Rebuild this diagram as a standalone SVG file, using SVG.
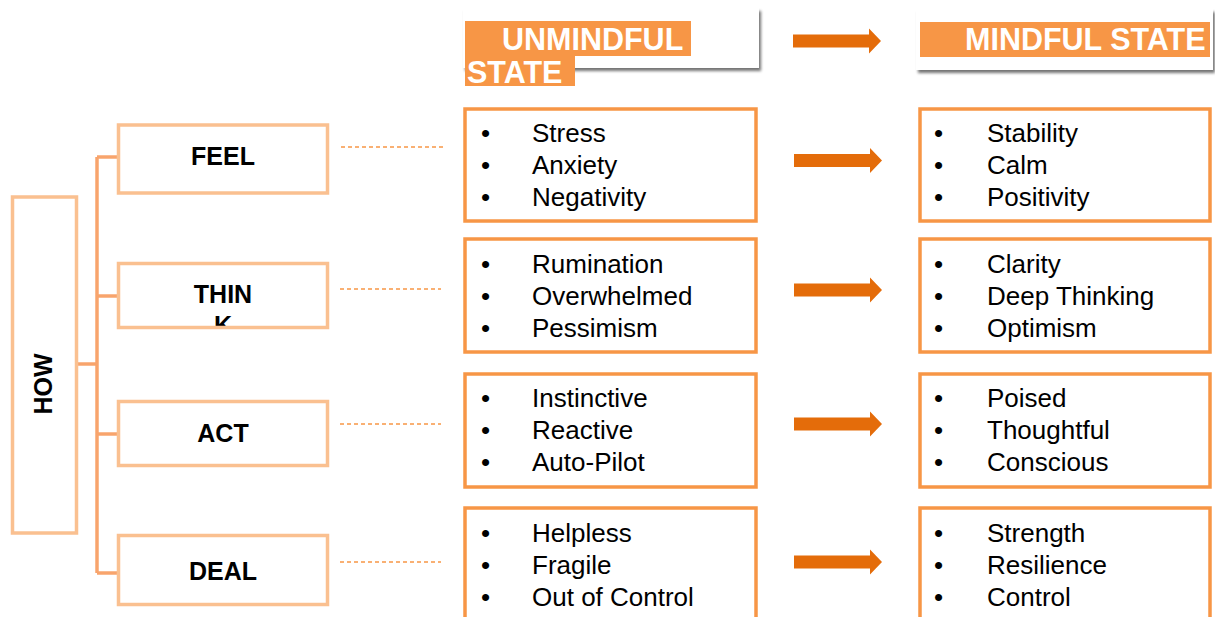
<svg xmlns="http://www.w3.org/2000/svg" width="1215" height="617" viewBox="0 0 1215 617">
<style>
.lbox{fill:#fff;stroke:#FAC090;stroke-width:3.5}
.lstroke{fill:none;stroke:#FAC090;stroke-width:3.5}
.sbox{fill:#fff;stroke:#F79646;stroke-width:3.5}
.lbl{font-family:"Liberation Sans",Arial,sans-serif;font-weight:bold;font-size:25px;fill:#000;text-anchor:middle}
.item{font-family:"Liberation Sans",Arial,sans-serif;font-size:26px;fill:#000}
.hdr{font-family:"Liberation Sans",Arial,sans-serif;font-weight:bold;font-size:30.5px;fill:#fff}
.conn{stroke:#F8A46C;stroke-width:3.5;fill:none}
.dash{stroke:#F79646;stroke-width:1.6;stroke-dasharray:4 3;fill:none}
.arrow{fill:#E46C0A}
.hbg{fill:#F79646}
</style>
<defs>
<filter id="sh" x="-5%" y="-20%" width="115%" height="150%">
<feGaussianBlur in="SourceAlpha" stdDeviation="1.5"/>
<feOffset dx="2" dy="3" result="b"/>
<feComponentTransfer><feFuncA type="linear" slope="0.55"/></feComponentTransfer>
<feMerge><feMergeNode/><feMergeNode in="SourceGraphic"/></feMerge>
</filter>
<clipPath id="thinkclip" clipPathUnits="userSpaceOnUse"><rect x="117" y="262" width="212" height="66"/></clipPath>
<path id="arr" d="M0,-6.5 H76 V-12.5 L88,0 L76,12.5 V6.5 H0 Z"/>
</defs>
<rect width="1215" height="617" fill="#fff"/>

<g id="connectors">
<line class="conn" x1="78" y1="364" x2="97" y2="364"/>
<line class="conn" x1="97" y1="157" x2="97" y2="573"/>
<line class="conn" x1="97" y1="157" x2="117" y2="157"/>
<line class="conn" x1="97" y1="296" x2="117" y2="296"/>
<line class="conn" x1="97" y1="434" x2="117" y2="434"/>
<line class="conn" x1="97" y1="573" x2="117" y2="573"/>
<line class="dash" x1="341" y1="147" x2="445" y2="147"/>
<line class="dash" x1="340" y1="289" x2="441" y2="289"/>
<line class="dash" x1="340" y1="424" x2="441" y2="424"/>
<line class="dash" x1="340" y1="562" x2="441" y2="562"/>
<use href="#arr" class="arrow" x="793" y="41"/>
<use href="#arr" class="arrow" x="794" y="160.5"/>
<use href="#arr" class="arrow" x="794" y="290"/>
<use href="#arr" class="arrow" x="794" y="424"/>
<use href="#arr" class="arrow" x="794" y="562"/>
</g>

<g id="how">
<rect class="lbox" x="12.5" y="197" width="64" height="336"/>
<text class="lbl" transform="translate(52,384) rotate(-90)" font-size="25">HOW</text>
</g>

<g id="feel">
<rect class="lbox" x="118.5" y="125" width="209" height="68"/>
<text class="lbl" x="223" y="165">FEEL</text>
</g>
<g id="think">
<rect x="118.5" y="263.5" width="209" height="64" fill="#fff"/>
<g clip-path="url(#thinkclip)">
<text class="lbl" x="223" y="303">THIN</text>
<text class="lbl" x="223" y="334">K</text>
</g>
<rect class="lstroke" x="118.5" y="263.5" width="209" height="64"/>
</g>
<g id="act">
<rect class="lbox" x="118.5" y="401.5" width="209" height="64"/>
<text class="lbl" x="223" y="442">ACT</text>
</g>
<g id="deal">
<rect class="lbox" x="118.5" y="535.5" width="209" height="69"/>
<text class="lbl" x="223" y="580" font-size="22.5">DEAL</text>
</g>

<g id="hdr-unmindful">
<rect x="463" y="8" width="296" height="60" fill="#fff" filter="url(#sh)"/>
<rect class="hbg" x="465" y="21" width="226" height="35"/>
<rect class="hbg" x="465" y="56" width="110" height="30"/>
<text class="hdr" x="502" y="50" font-size="30">UNMINDFUL</text>
<text class="hdr" x="467" y="83" font-size="30">STATE</text>
</g>
<g id="hdr-mindful">
<rect x="916" y="9" width="297" height="61" fill="#fff" filter="url(#sh)"/>
<rect class="hbg" x="920" y="22" width="290" height="35"/>
<text class="hdr" x="965" y="50">MINDFUL STATE</text>
</g>

<g id="u-feel">
<rect class="sbox" x="465" y="109" width="291" height="112"/>
<text class="item"><tspan x="481" y="142">•</tspan><tspan x="532" y="142">Stress</tspan><tspan x="481" y="174">•</tspan><tspan x="532" y="174">Anxiety</tspan><tspan x="481" y="206">•</tspan><tspan x="532" y="206">Negativity</tspan></text>
</g>
<g id="u-think">
<rect class="sbox" x="465" y="239" width="291" height="113"/>
<text class="item"><tspan x="481" y="273">•</tspan><tspan x="532" y="273">Rumination</tspan><tspan x="481" y="305">•</tspan><tspan x="532" y="305">Overwhelmed</tspan><tspan x="481" y="337">•</tspan><tspan x="532" y="337">Pessimism</tspan></text>
</g>
<g id="u-act">
<rect class="sbox" x="465" y="374" width="291" height="113"/>
<text class="item"><tspan x="481" y="407">•</tspan><tspan x="532" y="407">Instinctive</tspan><tspan x="481" y="439">•</tspan><tspan x="532" y="439">Reactive</tspan><tspan x="481" y="471">•</tspan><tspan x="532" y="471">Auto-Pilot</tspan></text>
</g>
<g id="u-deal">
<rect class="sbox" x="465" y="508" width="291" height="120"/>
<text class="item"><tspan x="481" y="542">•</tspan><tspan x="532" y="542">Helpless</tspan><tspan x="481" y="574">•</tspan><tspan x="532" y="574">Fragile</tspan><tspan x="481" y="606">•</tspan><tspan x="532" y="606">Out of Control</tspan></text>
</g>

<g id="m-feel">
<rect class="sbox" x="920" y="109" width="290" height="112"/>
<text class="item"><tspan x="934" y="142">•</tspan><tspan x="987" y="142">Stability</tspan><tspan x="934" y="174">•</tspan><tspan x="987" y="174">Calm</tspan><tspan x="934" y="206">•</tspan><tspan x="987" y="206">Positivity</tspan></text>
</g>
<g id="m-think">
<rect class="sbox" x="920" y="239" width="290" height="113"/>
<text class="item"><tspan x="934" y="273">•</tspan><tspan x="987" y="273">Clarity</tspan><tspan x="934" y="305">•</tspan><tspan x="987" y="305">Deep Thinking</tspan><tspan x="934" y="337">•</tspan><tspan x="987" y="337">Optimism</tspan></text>
</g>
<g id="m-act">
<rect class="sbox" x="920" y="374" width="290" height="113"/>
<text class="item"><tspan x="934" y="407">•</tspan><tspan x="987" y="407">Poised</tspan><tspan x="934" y="439">•</tspan><tspan x="987" y="439">Thoughtful</tspan><tspan x="934" y="471">•</tspan><tspan x="987" y="471">Conscious</tspan></text>
</g>
<g id="m-deal">
<rect class="sbox" x="920" y="508" width="290" height="120"/>
<text class="item"><tspan x="934" y="542">•</tspan><tspan x="987" y="542">Strength</tspan><tspan x="934" y="574">•</tspan><tspan x="987" y="574">Resilience</tspan><tspan x="934" y="606">•</tspan><tspan x="987" y="606">Control</tspan></text>
</g>
</svg>
